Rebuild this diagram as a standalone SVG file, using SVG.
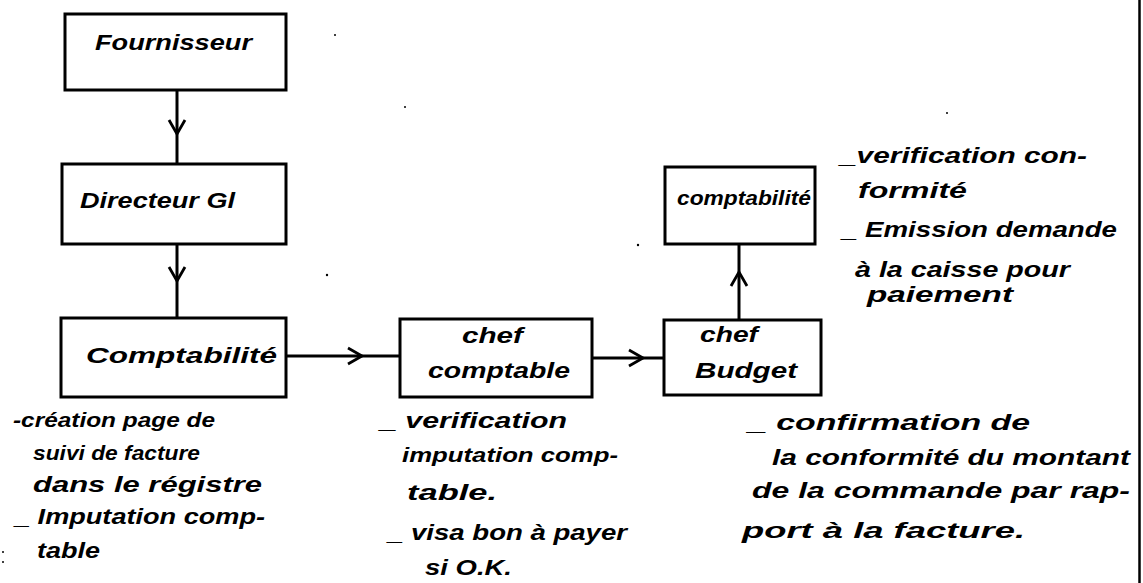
<svg xmlns="http://www.w3.org/2000/svg" width="1143" height="583" viewBox="0 0 1143 583">
<style>
.box{fill:#fff;stroke:#000;stroke-width:3}
.t{font-family:"Liberation Sans","DejaVu Sans",sans-serif;font-style:italic;font-weight:bold;font-size:22px;fill:#000}
.s{font-size:20px}
.c{fill:none;stroke:#000;stroke-width:3}
.dot{fill:#000}
</style>
<defs>
<marker id="chev" markerUnits="userSpaceOnUse" viewBox="-16 -10 20 20" refX="0" refY="0" markerWidth="20" markerHeight="20" orient="auto" overflow="visible">
<path d="M-14,-8 L0,0 L-14,8" fill="none" stroke="#000" stroke-width="2.8" stroke-linejoin="miter"/>
</marker>
</defs>
<rect width="1143" height="583" fill="#fff"/>
<line x1="1139.5" y1="0" x2="1139.5" y2="583" stroke="#000" stroke-width="2.5"/>
<g id="specks">
<circle class="dot" cx="335" cy="35" r="1"/>
<circle class="dot" cx="405" cy="107" r="1"/>
<circle class="dot" cx="327" cy="275" r="1.2"/>
<circle class="dot" cx="638" cy="245" r="1.2"/>
<circle class="dot" cx="947" cy="113" r="1"/>
<circle class="dot" cx="3" cy="552" r="1"/>
<circle class="dot" cx="3" cy="562" r="1"/>
</g>
<g id="connectors">
<path class="c" d="M177,90 L177,134 L177,164" marker-mid="url(#chev)"/>
<path class="c" d="M177,244 L177,281 L177,318" marker-mid="url(#chev)"/>
<path class="c" d="M286,356 L362,356 L400,356" marker-mid="url(#chev)"/>
<path class="c" d="M592,358 L643,358 L664,358" marker-mid="url(#chev)"/>
<path class="c" d="M739,320 L739,272 L739,244" marker-mid="url(#chev)"/>
</g>
<g id="fournisseur">
<rect class="box" x="65" y="14" width="221" height="76"/>
<text class="t" x="95" y="50" textLength="157" lengthAdjust="spacingAndGlyphs">Fournisseur</text>
</g>
<g id="directeur">
<rect class="box" x="62" y="164" width="224" height="80"/>
<text class="t" x="80" y="208" textLength="155" lengthAdjust="spacingAndGlyphs">Directeur Gl</text>
</g>
<g id="comptabilite">
<rect class="box" x="61" y="318" width="225" height="79"/>
<text class="t" x="86" y="363" textLength="191" lengthAdjust="spacingAndGlyphs">Comptabilité</text>
</g>
<g id="chef-comptable">
<rect class="box" x="400" y="319" width="192" height="78"/>
<text class="t" x="462" y="343" textLength="61" lengthAdjust="spacingAndGlyphs">chef</text>
<text class="t" x="428" y="378" textLength="142" lengthAdjust="spacingAndGlyphs">comptable</text>
</g>
<g id="chef-budget">
<rect class="box" x="664" y="320" width="157" height="75"/>
<text class="t" x="700" y="342" textLength="58" lengthAdjust="spacingAndGlyphs">chef</text>
<text class="t" x="695" y="378" textLength="102" lengthAdjust="spacingAndGlyphs">Budget</text>
</g>
<g id="comptabilite-2">
<rect class="box" x="665" y="167" width="150" height="77"/>
<text class="t s" x="677" y="205" textLength="134" lengthAdjust="spacingAndGlyphs">comptabilité</text>
</g>
<g id="notes-comptabilite">
<text class="t s" x="13" y="427" textLength="202" lengthAdjust="spacingAndGlyphs">-création page de</text>
<text class="t s" x="33" y="460" textLength="167" lengthAdjust="spacingAndGlyphs">suivi de facture</text>
<text class="t" x="33" y="492" textLength="229" lengthAdjust="spacingAndGlyphs">dans le régistre</text>
<text class="t" x="15" y="524" textLength="250" lengthAdjust="spacingAndGlyphs">_ Imputation comp-</text>
<text class="t" x="37" y="558" textLength="63" lengthAdjust="spacingAndGlyphs">table</text>
</g>
<g id="notes-chef-comptable">
<text class="t" x="380" y="428" textLength="187" lengthAdjust="spacingAndGlyphs">_ verification</text>
<text class="t s" x="402" y="462" textLength="216" lengthAdjust="spacingAndGlyphs">imputation comp-</text>
<text class="t" x="407" y="500" textLength="90" lengthAdjust="spacingAndGlyphs">table.</text>
<text class="t" x="388" y="540" textLength="239" lengthAdjust="spacingAndGlyphs">_ visa bon à payer</text>
<text class="t" x="425" y="575" textLength="87" lengthAdjust="spacingAndGlyphs">si O.K.</text>
</g>
<g id="notes-chef-budget">
<text class="t" x="748" y="430" textLength="282" lengthAdjust="spacingAndGlyphs">_ confirmation de</text>
<text class="t" x="772" y="465" textLength="358" lengthAdjust="spacingAndGlyphs">la conformité du montant</text>
<text class="t" x="752" y="498" textLength="378" lengthAdjust="spacingAndGlyphs">de la commande par rap-</text>
<text class="t" x="742" y="538" textLength="283" lengthAdjust="spacingAndGlyphs">port à la facture.</text>
</g>
<g id="notes-comptabilite-2">
<text class="t" x="840" y="163" textLength="247" lengthAdjust="spacingAndGlyphs">_verification con-</text>
<text class="t" x="858" y="198" textLength="109" lengthAdjust="spacingAndGlyphs">formité</text>
<text class="t" x="842" y="237" textLength="275" lengthAdjust="spacingAndGlyphs">_ Emission demande</text>
<text class="t" x="855" y="277" textLength="215" lengthAdjust="spacingAndGlyphs">à la caisse pour</text>
<text class="t" x="867" y="302" textLength="146" lengthAdjust="spacingAndGlyphs">paiement</text>
</g>
</svg>
